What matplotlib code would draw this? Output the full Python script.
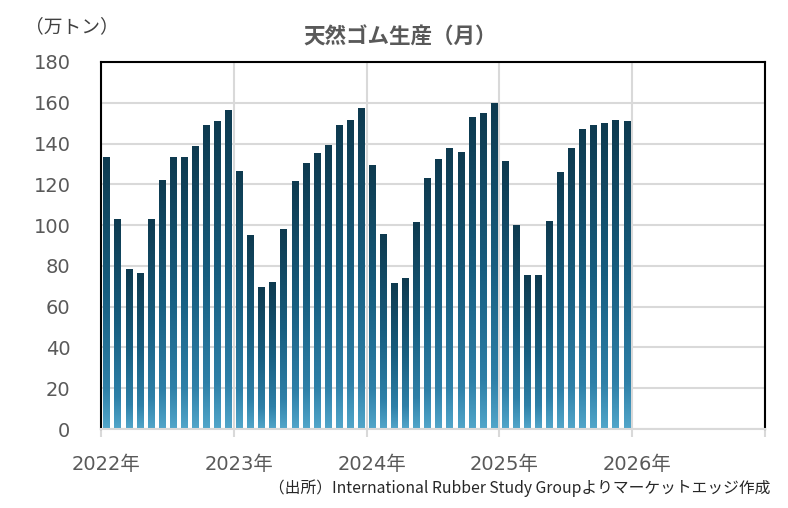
import matplotlib
matplotlib.use("Agg")
import matplotlib.pyplot as plt
import matplotlib.transforms as mtransforms
import numpy as np
from matplotlib.colors import LinearSegmentedColormap

plt.rcParams['font.family'] = ['DejaVu Sans', 'Noto Sans CJK JP']

# Monthly natural rubber production (10k tonnes), Jan 2022 - Dec 2025
prod_2022 = [133, 102.5, 78, 76.5, 102.5, 122, 133, 133, 138.3, 149, 150.6, 156]
prod_2023 = [126.5, 95, 69.6, 72, 98, 121.6, 130, 135, 138.8, 149, 151.5, 157.4]
prod_2024 = [129, 95.6, 71.6, 73.6, 101.5, 123, 132, 137.8, 135.8, 153, 154.5, 159.4]
prod_2025 = [131.4, 100, 75.5, 75.5, 102, 125.6, 137.8, 147, 148.6, 150, 151.5, 150.6]

years = [2022, 2023, 2024, 2025, 2026, 2027]
year_labels = ["2022年", "2023年", "2024年", "2025年", "2026年", ""]
y_ticks = [0, 20, 40, 60, 80, 100, 120, 140, 160, 180]

values = prod_2022 + prod_2023 + prod_2024 + prod_2025
x = 2022 + (np.arange(len(values)) + 0.5) / 12

grid_c = "#d9d9d9"
text_c = "#595959"

cmap = LinearSegmentedColormap.from_list(
    "bar_grad",
    [(0.0, "#52a6ca"), (0.15, "#2e80a8"), (0.5, "#175e80"), (1.0, "#0e3a4f")])

fig = plt.figure(figsize=(7.88, 5.08), dpi=100)
ax = fig.add_axes([0.1282, 0.1555, 0.8426, 0.7225])

bars = ax.bar(x, values, width=0.57 / 12, color="none", zorder=2)
grad = np.linspace(0, 1, 256).reshape(-1, 1)
for b in bars:
    x0 = b.get_x()
    ax.imshow(grad, extent=[x0, x0 + b.get_width(), 0, b.get_height()],
              origin="lower", aspect="auto", cmap=cmap, zorder=2,
              interpolation="bilinear")

ax.set_xlim(2022, 2027)
ax.set_ylim(0, 180)
ax.set_yticks(y_ticks)
ax.set_xticks(years)
ax.set_xticklabels(year_labels)

ax.grid(True, color=grid_c, linewidth=1.5, zorder=0)
ax.set_axisbelow(True)

for side in ["left", "top", "right"]:
    ax.spines[side].set_color("black")
    ax.spines[side].set_linewidth(1.5)
ax.spines["bottom"].set_color(grid_c)
ax.spines["bottom"].set_linewidth(1.5)

ax.tick_params(axis="y", length=0, pad=22, labelsize=14, labelcolor=text_c)
ax.tick_params(axis="x", length=6, width=1.5, color=grid_c, pad=13,
               labelsize=14, labelcolor=text_c)
shift = mtransforms.ScaledTranslation(5 / 100, 0, fig.dpi_scale_trans)
for lbl in ax.get_xticklabels():
    lbl.set_transform(lbl.get_transform() + shift)

fig.text(0.508, 0.927, "天然ゴム生産（月）", ha="center", va="center",
         fontsize=15.5, fontweight="bold", color=text_c,
         family=["Noto Sans CJK JP"])
fig.text(0.032, 0.947, "（万トン）", ha="left", va="center",
         fontsize=13.5, color="#404040", family=["Noto Sans CJK JP"])
fig.text(0.978, 0.04, "（出所）International Rubber Study Groupよりマーケットエッジ作成",
         ha="right", va="center", fontsize=11.3, color="#262626",
         family=["Noto Sans CJK JP"])

fig.savefig("out.png", dpi=100)
